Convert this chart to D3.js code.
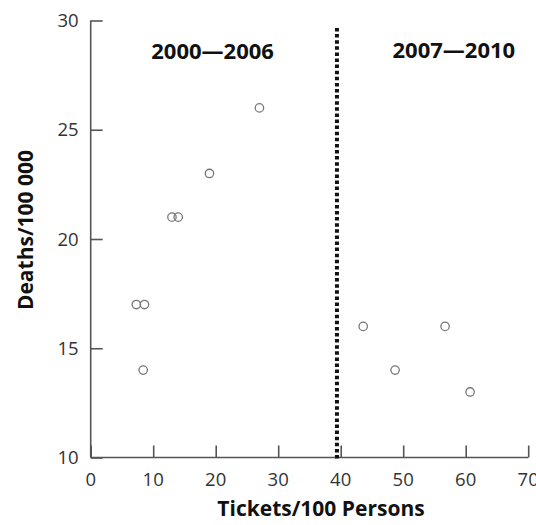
<!DOCTYPE html>
<html><head><meta charset="utf-8">
<script src="https://cdn.jsdelivr.net/npm/d3@7"></script>
<style>body{margin:0;background:#fff}</style>
</head><body>
<script>
const ticketsX = [7.3, 8.6, 8.4, 13.0, 14.0, 19.0, 27.0, 43.6, 48.7, 56.7, 60.7];
const deathsY  = [17, 17, 14, 21, 21, 23, 26, 16, 14, 16, 13];
const xTicks = [0, 10, 20, 30, 40, 50, 60, 70];
const yTicks = [10, 15, 20, 25, 30];
const dividerX = 39.4;
const periodLabels = ["2000\u20142006", "2007\u20142010"];
const periodLabelX = [19.5, 58.1];
const periodLabelY = [28.25, 28.3];

const W = 536, H = 525;
const svg = d3.select("body").append("svg").attr("width", W).attr("height", H);
const x = d3.scaleLinear().domain([0, 70]).range([90.7, 528.2]);
const y = d3.scaleLinear().domain([10, 30]).range([457.5, 20.5]);
const font = "'Open Sans', 'DejaVu Sans', sans-serif";

const xAxis = svg.append("g").attr("transform", `translate(0,${y(10)})`)
  .call(d3.axisTop(x).tickValues(xTicks).tickSize(12).tickFormat(""));
const yAxis = svg.append("g").attr("transform", `translate(${x(0)},0)`)
  .call(d3.axisRight(y).tickValues(yTicks).tickSize(12).tickFormat(""));
[xAxis, yAxis].forEach(g => {
  g.selectAll("path,line").attr("stroke", "#555").attr("stroke-width", 1.6);
  g.select(".domain").remove();
});
svg.append("line").attr("x1", x(0)).attr("x2", x(70)).attr("y1", y(10)).attr("y2", y(10))
  .attr("stroke", "#555").attr("stroke-width", 1.6);
svg.append("line").attr("x1", x(0)).attr("x2", x(0)).attr("y1", y(10)).attr("y2", y(30))
  .attr("stroke", "#555").attr("stroke-width", 1.6);

svg.append("g").selectAll("text").data(xTicks).join("text")
  .attr("x", d => x(d)).attr("y", y(10) + 28).attr("text-anchor", "middle")
  .attr("font-family", font).attr("font-size", 18.5).attr("fill", "#333").text(d => d);
svg.append("g").selectAll("text").data(yTicks).join("text")
  .attr("x", x(0) - 12).attr("y", d => y(d) + 6.5).attr("text-anchor", "end")
  .attr("font-family", font).attr("font-size", 18.5).attr("fill", "#333").text(d => d);

// divider
svg.append("line").attr("x1", x(dividerX)).attr("x2", x(dividerX))
  .attr("y1", 28).attr("y2", 461)
  .attr("stroke", "#111").attr("stroke-width", 4).attr("stroke-dasharray", "3.5,2.6");

// period labels
svg.append("g").selectAll("text").data(periodLabels).join("text")
  .attr("x", (d, i) => x(periodLabelX[i])).attr("y", (d, i) => y(periodLabelY[i]))
  .attr("text-anchor", "middle")
  .attr("font-family", font).attr("font-weight", "bold").attr("font-size", 22)
  .attr("fill", "#111").text(d => d);

// points
svg.append("g").selectAll("circle").data(ticketsX).join("circle")
  .attr("cx", d => x(d)).attr("cy", (d, i) => y(deathsY[i])).attr("r", 4.2)
  .attr("fill", "none").attr("stroke", "#777").attr("stroke-width", 1.3);

// axis titles
svg.append("text").attr("x", 321).attr("y", 516).attr("text-anchor", "middle")
  .attr("font-family", font).attr("font-weight", "bold").attr("font-size", 21)
  .attr("fill", "#111").text("Tickets/100 Persons");
svg.append("text").attr("transform", "translate(33,230) rotate(-90)").attr("text-anchor", "middle")
  .attr("font-family", font).attr("font-weight", "bold").attr("font-size", 21)
  .attr("fill", "#111").text("Deaths/100 000");
</script>
</body></html>
